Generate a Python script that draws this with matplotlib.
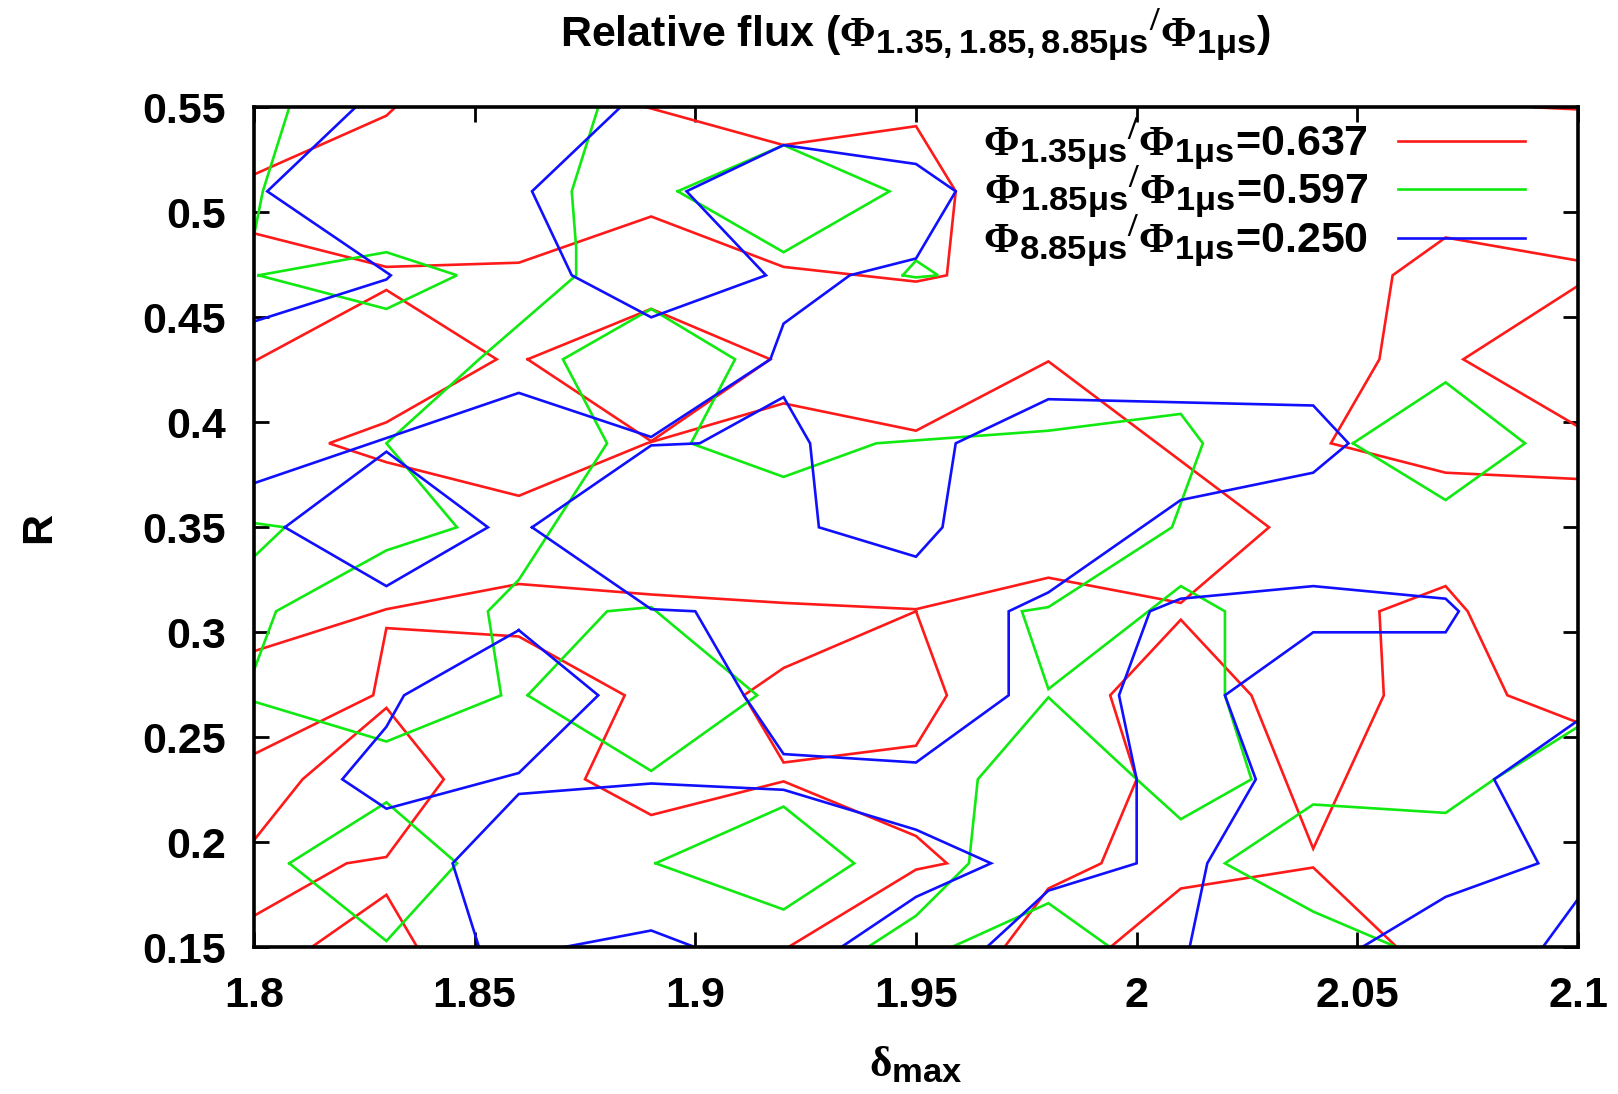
import matplotlib
matplotlib.use("Agg")
import matplotlib.pyplot as plt
import matplotlib._mathtext as mathtext_core

plt.rcParams['font.family'] = ['Liberation Sans', 'DejaVu Sans']
plt.rcParams['font.weight'] = 'bold'
plt.rcParams['axes.titleweight'] = 'bold'
plt.rcParams['axes.labelweight'] = 'bold'
plt.rcParams['mathtext.fontset'] = 'custom'
plt.rcParams['mathtext.rm'] = 'Liberation Serif:bold'
plt.rcParams['mathtext.sf'] = 'Liberation Sans:bold'
plt.rcParams['mathtext.it'] = 'Liberation Sans:bold'
# gnuplot-style subscripts are only a little smaller than the main text
mathtext_core.SHRINK_FACTOR = 0.8

# contour levels of the relative flux and their line colours
levels = [0.637, 0.597, 0.250]
delays = ['1.35', '1.85', '8.85']
colors = ['#ff1a1a', '#10ea10', '#1010ff']

x_ticks = [1.8, 1.85, 1.9, 1.95, 2.0, 2.05, 2.1]
x_ticklabels = ['1.8', '1.85', '1.9', '1.95', '2', '2.05', '2.1']
y_ticks = [0.15, 0.2, 0.25, 0.3, 0.35, 0.4, 0.45, 0.5, 0.55]
y_ticklabels = ['0.15', '0.2', '0.25', '0.3', '0.35', '0.4', '0.45', '0.5', '0.55']

# contour paths (delta_max, R) for each level
red_paths = [
    [(1.800, 0.518), (1.830, 0.546), (1.832, 0.550)],
    [(1.800, 0.490), (1.830, 0.474), (1.860, 0.476), (1.890, 0.498), (1.920, 0.474),
     (1.950, 0.467), (1.957, 0.470), (1.959, 0.510), (1.950, 0.541), (1.920, 0.532),
     (1.889, 0.550)],
    [(1.800, 0.429), (1.830, 0.463), (1.855, 0.430), (1.830, 0.400), (1.817, 0.390),
     (1.830, 0.381), (1.860, 0.365), (1.889, 0.390), (1.920, 0.409), (1.950, 0.396),
     (1.980, 0.429), (2.030, 0.350), (2.010, 0.314), (1.980, 0.326), (1.950, 0.311),
     (1.920, 0.314), (1.890, 0.318), (1.860, 0.323), (1.830, 0.311), (1.800, 0.291)],
    [(1.862, 0.430), (1.890, 0.454), (1.917, 0.430), (1.890, 0.391), (1.862, 0.430)],
    [(2.090, 0.550), (2.100, 0.549)],
    [(2.100, 0.477), (2.070, 0.488), (2.058, 0.470), (2.055, 0.430), (2.044, 0.390),
     (2.070, 0.376), (2.100, 0.373)],
    [(2.100, 0.465), (2.074, 0.430), (2.100, 0.398)],
    [(1.950, 0.310), (1.920, 0.283), (1.911, 0.270), (1.920, 0.238), (1.950, 0.246),
     (1.957, 0.270), (1.950, 0.310)],
    [(1.800, 0.242), (1.827, 0.270), (1.830, 0.302), (1.860, 0.298), (1.884, 0.270),
     (1.875, 0.230), (1.890, 0.213), (1.920, 0.229), (1.950, 0.203), (1.957, 0.190),
     (1.950, 0.187), (1.921, 0.150)],
    [(1.800, 0.201), (1.811, 0.230), (1.830, 0.264), (1.843, 0.230), (1.830, 0.193),
     (1.821, 0.190), (1.800, 0.165)],
    [(1.813, 0.150), (1.830, 0.175), (1.837, 0.150)],
    [(1.970, 0.150), (1.980, 0.178), (1.992, 0.190), (2.000, 0.230), (1.994, 0.270),
     (2.010, 0.306), (2.026, 0.270), (2.040, 0.197), (2.056, 0.270), (2.055, 0.310),
     (2.070, 0.322), (2.075, 0.310), (2.084, 0.270), (2.100, 0.257)],
    [(1.994, 0.150), (2.010, 0.178), (2.040, 0.188), (2.059, 0.150)],
]

green_paths = [
    [(1.808, 0.550), (1.802, 0.510), (1.800, 0.489)],
    [(1.801, 0.470), (1.830, 0.481), (1.846, 0.470), (1.830, 0.454), (1.801, 0.470)],
    [(1.878, 0.550), (1.872, 0.510), (1.873, 0.483), (1.873, 0.470), (1.851, 0.430),
     (1.830, 0.390), (1.846, 0.350), (1.830, 0.339), (1.805, 0.310), (1.800, 0.282)],
    [(1.800, 0.352), (1.807, 0.350), (1.800, 0.336)],
    [(1.800, 0.267), (1.830, 0.248), (1.856, 0.270), (1.853, 0.310), (1.860, 0.325),
     (1.880, 0.390), (1.870, 0.430), (1.890, 0.454), (1.909, 0.430), (1.899, 0.390),
     (1.920, 0.374), (1.941, 0.390), (1.980, 0.396), (2.010, 0.404), (2.015, 0.390),
     (2.008, 0.350), (1.980, 0.312), (1.974, 0.310), (1.980, 0.273), (2.010, 0.322),
     (2.020, 0.310), (2.020, 0.270), (2.026, 0.230), (2.010, 0.211), (2.000, 0.230),
     (1.980, 0.269), (1.964, 0.230), (1.962, 0.190), (1.950, 0.165), (1.939, 0.150)],
    [(1.896, 0.510), (1.920, 0.532), (1.944, 0.510), (1.920, 0.481), (1.896, 0.510)],
    [(1.947, 0.470), (1.950, 0.477), (1.955, 0.470), (1.950, 0.469), (1.947, 0.470)],
    [(1.862, 0.270), (1.880, 0.310), (1.890, 0.312), (1.914, 0.270), (1.890, 0.234),
     (1.862, 0.270)],
    [(1.808, 0.190), (1.830, 0.219), (1.846, 0.190), (1.830, 0.153), (1.808, 0.190)],
    [(1.891, 0.190), (1.920, 0.217), (1.936, 0.190), (1.920, 0.168), (1.891, 0.190)],
    [(1.958, 0.150), (1.980, 0.171), (1.994, 0.150)],
    [(2.100, 0.255), (2.081, 0.230), (2.070, 0.214), (2.040, 0.218), (2.020, 0.190),
     (2.040, 0.167), (2.059, 0.150)],
    [(2.049, 0.390), (2.070, 0.419), (2.088, 0.390), (2.070, 0.363), (2.049, 0.390)],
]

blue_paths = [
    [(1.823, 0.550), (1.803, 0.510), (1.831, 0.470), (1.830, 0.468), (1.800, 0.448)],
    [(1.883, 0.550), (1.863, 0.510), (1.872, 0.470), (1.890, 0.450), (1.916, 0.470),
     (1.898, 0.510), (1.920, 0.532), (1.950, 0.523), (1.959, 0.510), (1.950, 0.478),
     (1.935, 0.470), (1.920, 0.447), (1.917, 0.430), (1.890, 0.393), (1.860, 0.414),
     (1.800, 0.371)],
    [(1.863, 0.350), (1.890, 0.389), (1.901, 0.390), (1.920, 0.412), (1.926, 0.390),
     (1.928, 0.350), (1.950, 0.336), (1.956, 0.350), (1.959, 0.390), (1.980, 0.411),
     (2.040, 0.408), (2.048, 0.390), (2.040, 0.376), (2.010, 0.363), (1.980, 0.319),
     (1.971, 0.310), (1.971, 0.270), (1.950, 0.238), (1.920, 0.242), (1.911, 0.270),
     (1.900, 0.310), (1.890, 0.311), (1.863, 0.350)],
    [(1.807, 0.350), (1.830, 0.386), (1.853, 0.350), (1.830, 0.322), (1.807, 0.350)],
    [(1.860, 0.301), (1.834, 0.270), (1.830, 0.255), (1.820, 0.230), (1.830, 0.216),
     (1.860, 0.233), (1.878, 0.270), (1.860, 0.301)],
    [(1.851, 0.150), (1.845, 0.190), (1.860, 0.223), (1.890, 0.228), (1.920, 0.225),
     (1.950, 0.206), (1.967, 0.190), (1.950, 0.174), (1.933, 0.150)],
    [(1.870, 0.150), (1.890, 0.158), (1.900, 0.150)],
    [(1.966, 0.150), (1.980, 0.177), (2.000, 0.190), (2.000, 0.230), (1.996, 0.270),
     (2.003, 0.310), (2.010, 0.316), (2.040, 0.322), (2.070, 0.316), (2.073, 0.310),
     (2.070, 0.300), (2.040, 0.300), (2.020, 0.270), (2.027, 0.230), (2.016, 0.190),
     (2.012, 0.150)],
    [(2.051, 0.150), (2.070, 0.174), (2.091, 0.190), (2.081, 0.230), (2.100, 0.258)],
    [(2.092, 0.150), (2.100, 0.173)],
]

FS = 31

fig = plt.figure(figsize=(16.18, 10.94), dpi=100)
ax = fig.add_axes([254 / 1618, 1 - 947.3 / 1094, 1324 / 1618, 840 / 1094])

handles = []
for paths, color in zip([red_paths, green_paths, blue_paths], colors):
    for i, path in enumerate(paths):
        xs = [p[0] for p in path]
        ys = [p[1] for p in path]
        line, = ax.plot(xs, ys, color=color, lw=1.9, solid_joinstyle='miter')
        if i == 0:
            handles.append(line)

labels = [r'$\Phi_{\mathsf{%s\mu s}}{}^{/}\Phi_{\mathsf{1\mu s}}$=%.3f' % (d, v)
          for d, v in zip(delays, levels)]
ax.legend(handles, labels, loc='upper right', bbox_to_anchor=(0.96, 0.99),
          frameon=False, markerfirst=False, fontsize=FS, handlelength=2.95,
          handletextpad=0.7, borderpad=0, borderaxespad=0, labelspacing=-0.18)

ax.set_xlim(1.8, 2.1)
ax.set_ylim(0.15, 0.55)
ax.set_xticks(x_ticks)
ax.set_xticklabels(x_ticklabels)
ax.set_yticks(y_ticks)
ax.set_yticklabels(y_ticklabels)
ax.tick_params(direction='in', length=11, width=2, labelsize=FS,
               top=True, right=True, pad=21)
ax.tick_params(axis='y', pad=20)
for s in ax.spines.values():
    s.set_linewidth(2.6)

ax.set_title(r'Relative flux ($\Phi_{\mathsf{1.35,1.85,8.85\mu s}}{}^{/}\Phi_{\mathsf{1\mu s}}$)',
             fontsize=FS, pad=43)
ax.set_xlabel(r'$\mathrm{\delta}_{\mathsf{max}}$', fontsize=FS, labelpad=20)
ax.set_ylabel('R', fontsize=FS, labelpad=60)

fig.savefig('out.png', dpi=100)
